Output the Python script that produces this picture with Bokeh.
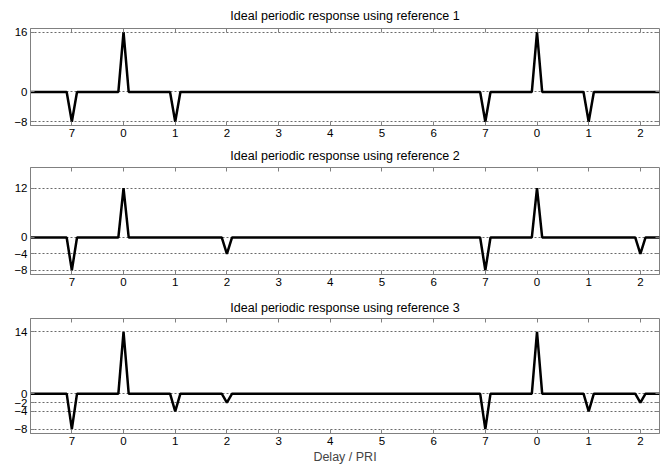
from bokeh.plotting import figure
from bokeh.layouts import column
from bokeh.models import FixedTicker, LinearAxis, Range1d
from bokeh.embed import file_html
from bokeh.resources import INLINE

# ---- data ----
x_ticks = [-1, 0, 1, 2, 3, 4, 5, 6, 7, 8, 9, 10]
x_tick_labels = ["7", "0", "1", "2", "3", "4", "5", "6", "7", "0", "1", "2"]

titles = [
    "Ideal periodic response using reference 1",
    "Ideal periodic response using reference 2",
    "Ideal periodic response using reference 3",
]
lags_1 = [-1, 0, 1, 7, 8, 9]
values_1 = [-8, 16, -8, -8, 16, -8]
lags_2 = [-1, 0, 2, 7, 8, 10]
values_2 = [-8, 12, -4, -8, 12, -4]
lags_3 = [-1, 0, 1, 2, 7, 8, 9, 10]
values_3 = [-8, 14, -4, -2, -8, 14, -4, -2]
y_ticks_1 = [-8, 0, 16]
y_ticks_2 = [-8, -4, 0, 12]
y_ticks_3 = [-8, -4, -2, 0, 14]
x_label = "Delay / PRI"

X_START, X_END = -1.8, 10.37
Y_START, Y_END = -9, 17
HALF = 0.1  # half width of each sampled pulse (in PRI)

FONT = "Liberation Sans"
FRAME = "#808080"


def pulse_line(lags, values):
    xs, ys = [X_START], [0]
    for l, v in zip(lags, values):
        xs += [l - HALF, l, l + HALF]
        ys += [0, v, 0]
    xs.append(X_END)
    ys.append(0)
    return xs, ys


def make_fig(title, lags, values, yticks, height, top, bottom, title_standoff, xlabel=None):
    p = figure(width=660, height=height, output_backend="svg", toolbar_location=None,
               x_range=Range1d(X_START, X_END), y_range=Range1d(Y_START, Y_END),
               min_border_left=30, min_border_right=1,
               min_border_top=top, min_border_bottom=bottom,
               title=title, background_fill_color="white", border_fill_color="white",
               outline_line_color=FRAME, outline_line_width=1)
    p.title.align = "center"
    p.title.text_font = FONT
    p.title.text_font_size = "12.5px"
    p.title.text_font_style = "normal"
    p.title.text_color = "black"
    p.title.standoff = title_standoff

    xa = p.xaxis[0]
    xa.ticker = FixedTicker(ticks=x_ticks)
    xa.major_label_overrides = {t: s for t, s in zip(x_ticks, x_tick_labels)}
    ya = p.yaxis[0]
    ya.ticker = FixedTicker(ticks=yticks)
    for ax in (xa, ya):
        ax.major_tick_in = 4
        ax.major_tick_out = 0
        ax.minor_tick_line_color = None
        ax.axis_line_color = FRAME
        ax.major_tick_line_color = FRAME
        ax.major_label_text_font = FONT
        ax.major_label_text_font_size = "11.5px"
        ax.major_label_text_color = "black"
        ax.major_label_standoff = 3
    if xlabel:
        xa.axis_label = xlabel
        xa.axis_label_text_font = FONT
        xa.axis_label_text_font_size = "12.5px"
        xa.axis_label_text_font_style = "normal"
        xa.axis_label_standoff = 2

    # mirrored ticks on top and right (labels not drawn)
    top_ax = LinearAxis(ticker=FixedTicker(ticks=x_ticks), major_label_text_font_size="1px",
                        major_label_text_color=None,
                        major_tick_in=4, major_tick_out=0, minor_tick_line_color=None,
                        axis_line_color=None, major_tick_line_color=FRAME, major_label_standoff=0)
    p.add_layout(top_ax, "above")
    right_ax = LinearAxis(ticker=FixedTicker(ticks=yticks), major_label_text_font_size="1px",
                          major_label_text_color=None,
                          major_tick_in=4, major_tick_out=0, minor_tick_line_color=None,
                          axis_line_color=None, major_tick_line_color=FRAME, major_label_standoff=0)
    p.add_layout(right_ax, "right")

    p.xgrid.visible = False
    p.ygrid.ticker = FixedTicker(ticks=yticks)
    p.ygrid.grid_line_color = "#6a6a6a"
    p.ygrid.grid_line_dash = "2 2"
    p.ygrid.grid_line_width = 1

    xs, ys = pulse_line(lags, values)
    p.line(xs, ys, line_color="black", line_width=2.5)
    return p


f1 = make_fig(titles[0], lags_1, values_1, y_ticks_1, 141, 28, 16, 11)
f2 = make_fig(titles[1], lags_2, values_2, y_ticks_2, 151, 25, 18, 10)
f3 = make_fig(titles[2], lags_3, values_3, y_ticks_3, 177, 26, 36, 8, xlabel=x_label)

p = column(f1, f2, f3, spacing=0)

open("out.html", "w").write(file_html(p, INLINE))
